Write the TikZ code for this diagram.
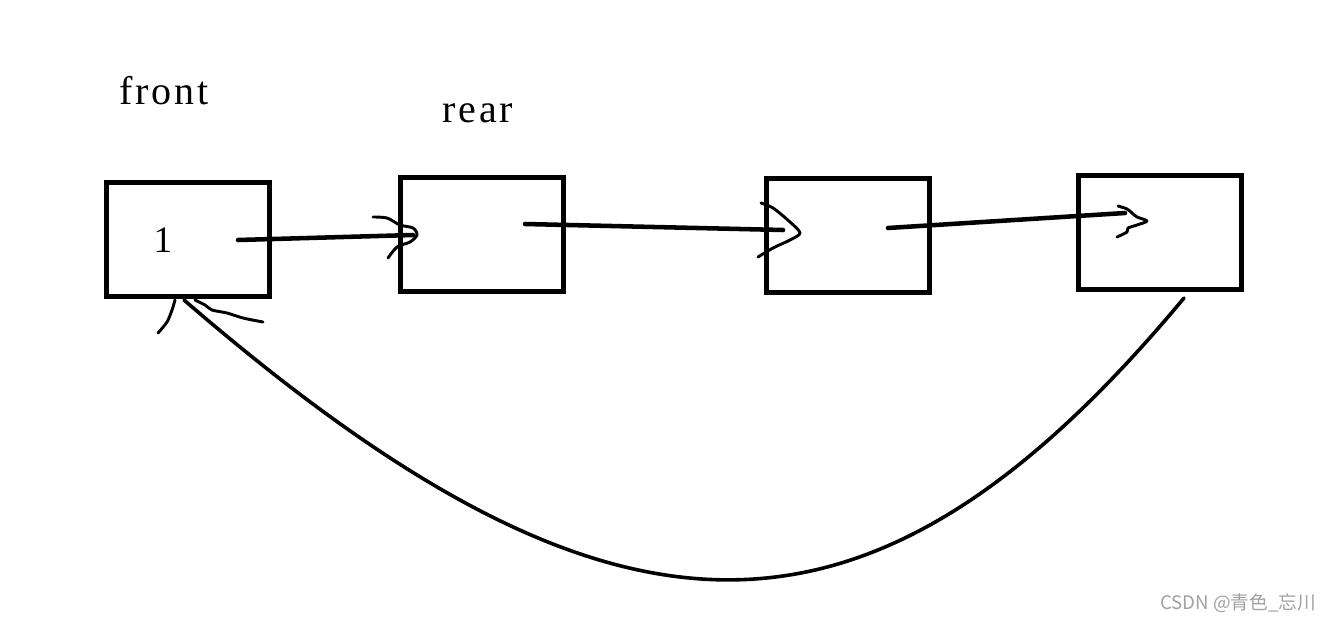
\documentclass[tikz,border=0pt]{standalone}
\usepackage{fontspec}
\setmainfont{Liberation Serif}
\newfontfamily\cjkfont{Noto Sans CJK SC}
\definecolor{wmgray}{RGB}{160,160,160}
\begin{document}
\begin{tikzpicture}[x=0.75pt,y=-0.75pt,
  box/.style={draw, line width=3.75pt, minimum width=122.25pt, minimum height=85.5pt, inner sep=0pt},
  link/.style={line width=3.4pt, line cap=round},
  headstroke/.style={line width=2.2pt, line cap=round, line join=round},
  loopback/.style={line width=2.7pt, line cap=round},
  lbl/.style={font=\fontsize{30}{33}\selectfont\addfontfeatures{LetterSpace=7}, anchor=base, inner sep=0pt},
  val/.style={font=\fontsize{28}{31}\selectfont, anchor=base, inner sep=0pt},
]
\useasboundingbox (0,0) rectangle (1330,621);

% boxes
\node[box] (b1) at (188,239.5) {};
\node[box] (b2) at (482,234) {};
\node[box] (b3) at (847.5,235.5) {};
\node[box] (b4) at (1160,232) {};

% labels
\node[lbl] (front) at (164,104) {front};
\node[lbl] (rear) at (478,122) {rear};
\node[val] (one) at (163,252) {1};

% link 1 -> 2
\coordinate (s1) at (238,240);
\coordinate (t1) at (413,235);
\draw[link] (s1) -- (t1);
\draw[headstroke] plot[smooth, tension=0.5] coordinates {(373,217) (387,218) (400,225) (413,228) (417,235) (410,242) (397,247) (388,258)};

% link 2 -> 3
\coordinate (s2) at (525,224);
\coordinate (t2) at (783,230);
\draw[link] (s2) -- (t2);
\draw[headstroke] plot[smooth, tension=0.5] coordinates {(761,203) (773,208) (790,222) (800,233) (790,240) (773,248) (758,257)};

% link 3 -> 4
\coordinate (s3) at (888,228);
\coordinate (t3) at (1125,213);
\draw[link] (s3) -- (t3);
\draw[headstroke] plot[smooth, tension=0.5] coordinates {(1118,206) (1127,209) (1132,213) (1137,217) (1147,221) (1137,225) (1128,228) (1127,232) (1117,237)};

% loop back 4 -> 1
\coordinate (s4) at (1184,298);
\coordinate (t4) at (184,300);
\draw[loopback] (s4) .. controls (870,675) and (615,672) .. (t4);
\draw[headstroke] plot[smooth, tension=0.5] coordinates {(175,300) (172,310) (167,322) (158,333)};
\draw[headstroke] plot[smooth, tension=0.5] coordinates {(195,300) (205,305) (212,310) (227,313) (243,318) (263,322)};

% watermark
\node[font=\cjkfont\fontsize{14}{16}\selectfont, text=wmgray, inner sep=0pt] (wm) at (1238,603) {CSDN @青色\_忘川};
\end{tikzpicture}
\end{document}
